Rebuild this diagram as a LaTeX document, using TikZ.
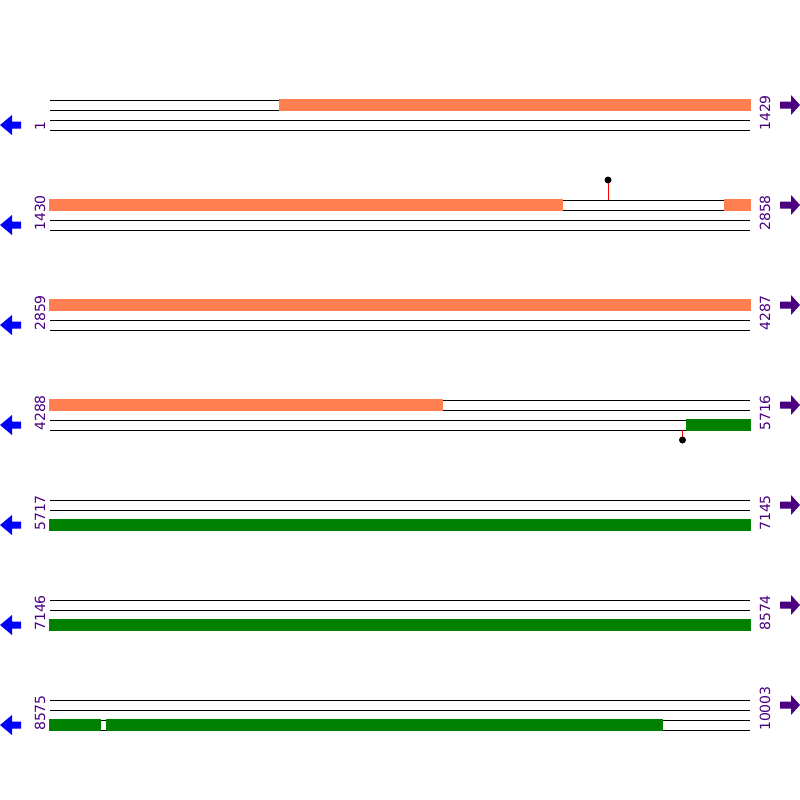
\documentclass[tikz,border=0pt]{standalone}
\usepackage{fontspec}
\setmainfont{DejaVu Sans}
\definecolor{orf}{HTML}{FF7F50}
\definecolor{grn}{HTML}{008000}
\definecolor{lbl}{HTML}{4B0082}
\definecolor{blu}{HTML}{0000FF}
\begin{document}
\begin{tikzpicture}[x=1pt,y=-1pt,
  trackline/.style={black,line width=1pt},
  orbar/.style={fill=orf,draw=none},
  gnbar/.style={fill=grn,draw=none},
  numlbl/.style={text=lbl,rotate=90,anchor=west,inner sep=0pt,font=\fontsize{14}{14}\selectfont},
  rarrow/.style={fill=lbl,draw=none},
  larrow/.style={fill=blu,draw=none},
  stem/.style={red,line width=1pt},
  dot/.style={fill=black,draw=none}]
\useasboundingbox (0,0) rectangle (800,800);
\fill[white] (0,0) rectangle (800,800);
% rows
\foreach \k/\l/\r in {0/1/1429,1/1430/2858,2/2859/4287,3/4288/5716,4/5717/7145,5/7146/8574,6/8575/10003}{
  \pgfmathsetmacro{\yo}{100+100*\k}
  \foreach \d in {0,10,20,30}{\draw[trackline] (50,\yo+\d) -- (750,\yo+\d);}
  \node[numlbl] (L\k) at (40,\yo+31) {\l};
  \node[numlbl] (R\k) at (765,\yo+31) {\r};
  \fill[rarrow] (780,\yo+1.5) -- (791,\yo+1.5) -- (791,\yo-5) -- (800,\yo+5) -- (791,\yo+15) -- (791,\yo+8.5) -- (780,\yo+8.5) -- cycle;
  \fill[larrow] (21,\yo+21.5) -- (12,\yo+21.5) -- (12,\yo+15) -- (0,\yo+25) -- (12,\yo+35) -- (12,\yo+28.5) -- (21,\yo+28.5) -- cycle;
}
% row 1
\fill[orbar] (279,99.4) rectangle (750.6,110.6);
% row 2
\fill[orbar] (49.4,199.4) rectangle (563,210.6);
\fill[orbar] (724,199.4) rectangle (750.6,210.6);
\draw[stem] (608,200) -- (608,180);
\fill[dot] (608,180) circle (3.5);
% row 3
\fill[orbar] (49.4,299.4) rectangle (750.6,310.6);
% row 4
\fill[orbar] (49.4,399.4) rectangle (443,410.6);
\fill[gnbar] (686,419.4) rectangle (750.6,430.6);
\draw[stem] (682.5,430) -- (682.5,440);
\fill[dot] (682.5,440) circle (3.5);
% row 5
\fill[gnbar] (49.4,519.4) rectangle (750.6,530.6);
% row 6
\fill[gnbar] (49.4,619.4) rectangle (750.6,630.6);
% row 7
\fill[gnbar] (49.4,719.4) rectangle (101,730.6);
\fill[gnbar] (106,719.4) rectangle (663,730.6);
\end{tikzpicture}
\end{document}
